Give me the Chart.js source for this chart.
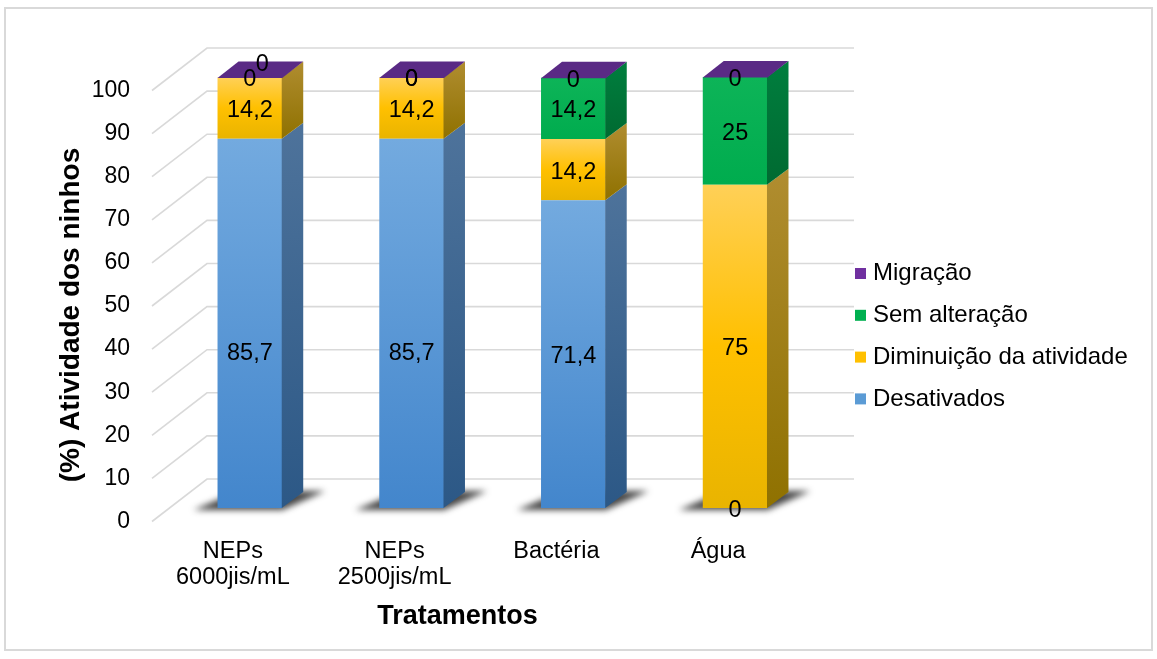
<!DOCTYPE html>
<html lang="pt">
<head>
<meta charset="utf-8">
<title>Atividade dos ninhos por tratamento</title>
<script src="https://cdn.jsdelivr.net/npm/chart.js@4.4.1/dist/chart.umd.min.js"></script>
<style>
  html, body { margin: 0; padding: 0; background: #ffffff; }
  canvas { display: block; }
</style>
</head>
<body>
<canvas id="chart" width="1157" height="659"></canvas>
<script>
// ---- data ----
const categories = [['NEPs', '6000jis/mL'], ['NEPs', '2500jis/mL'], ['Bactéria'], ['Água']];
const desativados = [85.7, 85.7, 71.4, 0];
const diminuicao = [14.2, 14.2, 14.2, 75];
const semAlteracao = [0, 0, 14.2, 25];
const migracao = [0, 0, 0, 0];
const seriesNames = ['Desativados', 'Diminuição da atividade', 'Sem alteração', 'Migração'];
const yTickValues = [0, 10, 20, 30, 40, 50, 60, 70, 80, 90, 100];
const xTitle = 'Tratamentos';
const yTitle = '(%) Atividade dos ninhos';

// ---- look ----
const FONT = '"Liberation Sans", Arial, sans-serif';
const shade = [
  { front: ['#73AADF', '#4386CC'], side: ['#4E739B', '#2C5886'], key: '#5B9BD5' },
  { front: ['#FFD057', '#FFC000', '#E9B400'], side: ['#B08D30', '#8F7100'], key: '#FFC000' },
  { front: ['#0DB458', '#00AC4E'], side: ['#007E3E', '#006A31'], key: '#00B050' },
  { front: ['#6A35A0', '#5B2C87'], side: ['#4A2370', '#3E1D5E'], key: '#7030A0', lid: '#5A2A85' }
];
const DEPTH = { dx: 21, dy: -16 };   // thickness of each column
const FRONT = { dx: -17, dy: 13.5 }; // front edge of the floor / side wall
const BACK = { dx: 38, dy: -29 };    // back wall

function stackRange(chart, di, i) {
  let start = 0;
  for (let k = 0; k < di; k++) start += chart.data.datasets[k].data[i];
  return [start, start + chart.data.datasets[di].data[i]];
}

function frontFill(ctx) {
  const chart = ctx.chart;
  const stops = shade[ctx.datasetIndex].front;
  const y = chart.scales && chart.scales.y;
  if (ctx.type !== 'data' || !chart.chartArea || !y) return stops[0];
  const [a, b] = stackRange(chart, ctx.datasetIndex, ctx.dataIndex);
  const top = y.getPixelForValue(b), bot = y.getPixelForValue(a);
  if (bot - top < 1) return stops[0];
  const g = chart.ctx.createLinearGradient(0, top, 0, bot);
  stops.forEach((s, k) => g.addColorStop(k / (stops.length - 1), s));
  return g;
}

const fmt = v => String(v).replace('.', ',');

const scene3d = {
  id: 'scene3d',
  beforeDraw(chart) {
    const c = chart.ctx;
    c.save();
    c.fillStyle = '#ffffff';
    c.fillRect(0, 0, chart.width, chart.height);
    c.strokeStyle = '#D9D9D9';
    c.lineWidth = 2;
    c.strokeRect(5, 8, chart.width - 10, chart.height - 17);
    c.restore();
  },
  beforeDatasetsDraw(chart) {
    const c = chart.ctx, a = chart.chartArea, y = chart.scales.y;
    c.save();
    // wall and side grid lines
    c.strokeStyle = '#D9D9D9';
    c.lineWidth = 1.6;
    y.ticks.forEach(t => {
      const py = y.getPixelForValue(t.value);
      c.beginPath();
      c.moveTo(a.left + FRONT.dx, py + FRONT.dy);
      c.lineTo(a.left + BACK.dx, py + BACK.dy);
      c.lineTo(a.right + BACK.dx, py + BACK.dy);
      c.stroke();
    });
    // soft shadows on the floor
    const base = y.getPixelForValue(0);
    chart.getDatasetMeta(0).data.forEach(bar => {
      const L = bar.x - bar.width / 2, R = bar.x + bar.width / 2;
      c.save();
      c.filter = 'blur(3px)';
      c.fillStyle = 'rgba(25,25,25,0.8)';
      c.beginPath();
      c.moveTo(L - 24, base + 2);
      c.lineTo(R, base + 2);
      c.lineTo(R + DEPTH.dx + 22, base + DEPTH.dy - 1);
      c.lineTo(L + DEPTH.dx, base + DEPTH.dy - 1);
      c.closePath();
      c.fill();
      c.restore();
    });
    c.restore();
  },
  afterDatasetsDraw(chart, args, opts) {
    const c = chart.ctx;
    const sets = chart.data.datasets;
    c.save();
    // side faces
    sets.forEach((ds, di) => {
      chart.getDatasetMeta(di).data.forEach(bar => {
        const R = bar.x + bar.width / 2;
        const top = Math.min(bar.y, bar.base), bot = Math.max(bar.y, bar.base);
        if (bot - top < 0.5) return;
        const g = c.createLinearGradient(0, top + DEPTH.dy, 0, bot);
        g.addColorStop(0, shade[di].side[0]);
        g.addColorStop(1, shade[di].side[1]);
        c.fillStyle = g;
        c.beginPath();
        c.moveTo(R - 0.5, bot);
        c.lineTo(R + DEPTH.dx, bot + DEPTH.dy);
        c.lineTo(R + DEPTH.dx, top + DEPTH.dy);
        c.lineTo(R - 0.5, top);
        c.closePath();
        c.fill();
      });
    });
    // lids in the colour of the top series
    const last = sets.length - 1;
    chart.getDatasetMeta(last).data.forEach(bar => {
      const L = bar.x - bar.width / 2, R = bar.x + bar.width / 2, T = bar.y;
      c.fillStyle = shade[last].lid;
      c.beginPath();
      c.moveTo(L, T + 0.5);
      c.lineTo(R, T + 0.5);
      c.lineTo(R + DEPTH.dx, T + DEPTH.dy);
      c.lineTo(L + DEPTH.dx, T + DEPTH.dy);
      c.closePath();
      c.fill();
    });
    // value labels
    c.font = '23.5px ' + FONT;
    c.fillStyle = '#000000';
    c.textAlign = 'center';
    c.textBaseline = 'middle';
    sets.forEach((ds, di) => {
      chart.getDatasetMeta(di).data.forEach((bar, i) => {
        const n = opts.nudges[di + ':' + i] || [0, 0];
        const mid = (bar.y + bar.base) / 2 + opts.lift;
        c.fillText(fmt(ds.data[i]), bar.x + n[0], mid + n[1]);
      });
    });
    c.restore();
  },
  afterDraw(chart, args, opts) {
    const c = chart.ctx;
    const sets = chart.data.datasets;
    c.save();
    // legend, top series first
    c.font = '24px ' + FONT;
    c.textAlign = 'left';
    c.textBaseline = 'middle';
    for (let k = sets.length - 1, row = 0; k >= 0; k--, row++) {
      const cy = opts.legend.y + row * opts.legend.step;
      c.fillStyle = shade[k].key;
      c.fillRect(opts.legend.x, cy - 5.5, 11, 11);
      c.fillStyle = '#000000';
      c.fillText(sets[k].label, opts.legend.x + 18, cy);
    }
    // axis titles
    c.font = 'bold 27px ' + FONT;
    c.textAlign = 'center';
    c.textBaseline = 'alphabetic';
    c.fillText(xTitle, opts.xTitle.x, opts.xTitle.y);
    c.translate(opts.yTitle.x, opts.yTitle.y);
    c.rotate(-Math.PI / 2);
    c.font = 'bold 28px ' + FONT;
    c.fillText(yTitle, 0, 0);
    c.restore();
  }
};

const seriesValues = [desativados, diminuicao, semAlteracao, migracao];

new Chart(document.getElementById('chart'), {
  type: 'bar',
  data: {
    labels: categories,
    datasets: seriesValues.map((vals, k) => ({
      label: seriesNames[k],
      data: vals,
      backgroundColor: frontFill,
      borderWidth: 0,
      barPercentage: 0.4,
      categoryPercentage: 1.0
    }))
  },
  options: {
    responsive: false,
    animation: false,
    events: [],
    layout: { padding: { left: 0, right: 341, top: 77, bottom: 0 } },
    scales: {
      x: {
        stacked: true,
        offset: true,
        grid: { display: false, drawTicks: false },
        border: { display: false },
        ticks: {
          color: '#000000',
          font: { family: FONT, size: 23.5, lineHeight: 1.13 },
          padding: 30,
          labelOffset: -17,
          maxRotation: 0,
          autoSkip: false
        },
        afterFit(scale) { scale.height = 151; }
      },
      y: {
        stacked: true,
        min: 0,
        max: 100,
        grid: { display: false, drawTicks: false },
        border: { display: false },
        ticks: {
          color: '#000000',
          font: { family: FONT, size: 23 },
          padding: 39,
          labelOffset: 13.5
        },
        afterBuildTicks(scale) { scale.ticks = yTickValues.map(v => ({ value: v })); },
        afterFit(scale) { scale.width = 169; }
      }
    },
    plugins: {
      legend: { display: false },
      tooltip: { enabled: false },
      scene3d: {
        lift: 2.5,
        nudges: { '0:0': [0, 28], '0:1': [0, 28], '3:0': [12.5, -15.5] },
        legend: { x: 855, y: 273.5, step: 41.8 },
        xTitle: { x: 457.5, y: 624 },
        yTitle: { x: 79, y: 315 }
      }
    }
  },
  plugins: [scene3d]
});
</script>
</body>
</html>
